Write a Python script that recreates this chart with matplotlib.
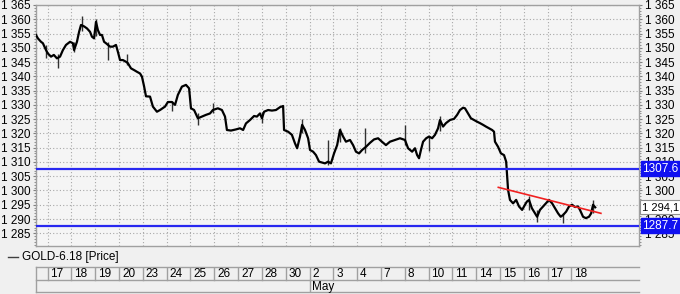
import numpy as np
import matplotlib
matplotlib.use("Agg")
import matplotlib.pyplot as plt
from matplotlib.ticker import FuncFormatter, MultipleLocator

plt.rcParams['font.family'] = ['Liberation Sans', 'DejaVu Sans']

# time in trading days from the 17 Apr open, price
t = [-0.49, -0.41, -0.28, -0.20, -0.07, 0.01, 0.14, 0.26, 0.39, 0.52, 0.64, 0.77, 0.94,
     1.06, 1.11, 1.23, 1.32, 1.40, 1.53, 1.65, 1.78, 1.86, 1.95, 2.03, 2.11, 2.20, 2.28,
     2.37, 2.45, 2.62, 2.74, 2.87, 2.95, 3.04, 3.16, 3.29, 3.37, 3.50, 3.63, 3.75, 3.88,
     3.96, 4.05, 4.13, 4.30, 4.42, 4.59, 4.72, 4.93, 5.05, 5.22, 5.35, 5.47, 5.64, 5.81,
     5.94, 6.02, 6.15, 6.31, 6.48, 6.65, 6.82, 6.94, 7.15, 7.32, 7.45, 7.53, 7.70, 7.91,
     8.08, 8.21, 8.33, 8.50, 8.67, 8.79, 8.92, 9.00, 9.09, 9.26, 9.42, 9.59, 9.76, 9.89,
     9.93, 10.10, 10.26, 10.39, 10.48, 10.60, 10.69, 10.81, 10.94, 11.02, 11.15, 11.27,
     11.40, 11.53, 11.65, 11.78, 11.90, 12.03, 12.16, 12.28, 12.41, 12.53, 12.70, 12.83,
     12.95, 13.08, 13.21, 13.37, 13.54, 13.71, 13.88, 14.04, 14.21, 14.38, 14.59, 14.80,
     15.01, 15.14, 15.31, 15.43, 15.52, 15.60, 15.68, 15.77, 15.90, 16.02, 16.15, 16.27,
     16.40, 16.48, 16.61, 16.73, 16.90, 17.07, 17.20, 17.32, 17.45, 17.53, 17.66, 17.78,
     17.91, 18.04, 18.16, 18.29, 18.41, 18.54, 18.67, 18.75, 18.79, 18.92, 19.04, 19.17,
     19.26, 19.34, 19.42, 19.55, 19.68, 19.80, 19.93, 20.05, 20.13, 20.22, 20.34, 20.47,
     20.56, 20.68, 20.81, 20.93, 21.06, 21.19, 21.31, 21.44, 21.55, 21.65, 21.78, 21.90,
     22.03, 22.15, 22.28, 22.36, 22.49, 22.61, 22.74, 22.83, 22.91, 23.00]
price = [1354.5, 1353.3, 1352.1, 1351.6, 1349.2, 1348.0, 1346.9, 1347.5, 1346.3, 1346.9, 1349.2, 1351.0, 1352.1,
         1351.6, 1349.2, 1352.1, 1355.6, 1358.0, 1357.5, 1356.8, 1355.6, 1353.9, 1353.3, 1359.1, 1356.2, 1354.5, 1354.5,
         1352.1, 1351.6, 1350.4, 1350.4, 1351.0, 1348.6, 1345.7, 1345.7, 1345.1, 1344.6, 1342.8, 1342.2, 1341.6, 1341.0,
         1339.9, 1336.5, 1333.0, 1332.9, 1329.4, 1327.6, 1328.2, 1329.4, 1331.0, 1331.0, 1330.0, 1333.5, 1336.4, 1337.0,
         1335.8, 1328.8, 1328.2, 1325.3, 1325.9, 1326.5, 1327.0, 1328.2, 1328.8, 1328.2, 1325.9, 1321.2, 1321.0, 1321.4,
         1321.8, 1321.2, 1323.5, 1324.7, 1326.1, 1325.9, 1327.0, 1325.3, 1327.6, 1328.2, 1328.0, 1328.2, 1329.2, 1329.6,
         1321.2, 1320.6, 1319.5, 1316.5, 1314.8, 1318.9, 1323.0, 1321.2, 1318.3, 1314.2, 1313.6, 1312.4,
         1310.1, 1309.8, 1309.5, 1310.1, 1309.5, 1313.0, 1315.9, 1321.2, 1318.9, 1317.1, 1317.7, 1315.9,
         1313.6, 1313.0, 1314.2, 1315.3, 1316.7, 1317.9, 1318.3, 1317.1, 1315.9, 1317.1, 1317.7, 1318.3,
         1317.7, 1314.8, 1313.6, 1314.8, 1312.4, 1311.3, 1314.2, 1317.1, 1318.3, 1318.9, 1318.3, 1319.5,
         1321.8, 1324.7, 1322.4, 1323.6, 1324.7, 1325.1, 1326.5, 1328.2, 1329.0, 1328.8, 1327.0, 1325.3,
         1324.7, 1324.1, 1323.6, 1323.0, 1322.4, 1321.8, 1321.2, 1320.6, 1317.1, 1315.3, 1313.0, 1312.4,
         1310.1, 1300.2, 1296.7, 1295.5, 1296.7, 1294.4, 1293.2, 1295.0, 1296.1, 1296.7, 1293.8, 1292.0,
         1290.8, 1293.2, 1294.4, 1295.5, 1296.7, 1295.5, 1293.8, 1292.0, 1290.8, 1291.4, 1292.6, 1294.4,
         1295.0, 1294.2, 1294.4, 1293.2, 1290.8, 1290.3, 1290.8, 1292.0, 1295.0, 1294.1]

# high/low wicks of the longer bars
wick_t = [-0.07, 0.43, 1.11, 1.44, 2.03, 2.53, 3.33, 5.22, 6.31, 6.94, 9.00, 10.69,
          11.78, 12.28, 13.33, 15.01, 16.02, 16.48, 20.22, 20.56, 21.65, 22.91]
wick_lo = [1346.5, 1342.8, 1348.5, 1356.0, 1354.0, 1345.7, 1344.0, 1328.0, 1323.0, 1327.0, 1323.5, 1320.0,
           1309.0, 1317.0, 1313.0, 1316.0, 1314.0, 1321.0, 1293.0, 1289.0, 1288.6, 1292.0]
wick_hi = [1351.0, 1348.0, 1352.0, 1361.1, 1360.0, 1352.0, 1348.0, 1331.5, 1327.0, 1330.6, 1327.5, 1325.0,
           1317.7, 1322.0, 1322.0, 1323.0, 1319.0, 1326.1, 1298.0, 1293.0, 1292.0, 1296.7]

day_labels = ['17', '18', '19', '20', '23', '24', '25', '26', '27', '28', '30', '2',
              '3', '4', '7', '8', '10', '11', '14', '15', '16', '17', '18']
month_labels = [('', -0.49), ('May', 11)]

levels = [1307.6, 1287.7]
last_price = 1294.1
trend_t = [18.93, 23.24]
trend_p = [1301.1, 1292.0]


def space_fmt(v, dec=0):
    s = f"{v:,.{dec}f}"
    return s.replace(",", " ").replace(".", ",")


fig = plt.figure(figsize=(6.8, 2.94), dpi=100, facecolor='#f0f0f0')
ax = fig.add_axes([36/680, 1-246/294, 603/680, 241.3/294])
ax.set_facecolor('#f5f5f5')
xmin, xmax = -0.49, 24.84
ax.set_xlim(xmin, xmax)
ax.set_ylim(1280.55, 1365.1)

gridc = '#a8a8a8'
for k in range(len(day_labels)):
    ax.axvline(k, color=gridc, lw=0.8, ls=(0, (1, 2)), zorder=1)
ax.yaxis.set_major_locator(MultipleLocator(5))
ax.yaxis.set_minor_locator(MultipleLocator(1))
ax.grid(axis='y', which='major', color=gridc, lw=0.8, ls=(0, (1, 2)), zorder=1)
ax.set_xticks([])

ax.yaxis.set_major_formatter(FuncFormatter(lambda v, p: space_fmt(v)))
ax.tick_params(axis='y', which='both', left=True, right=True, labelleft=True, labelright=True,
               labelsize=8.5, colors='#808080', labelcolor='black', pad=1.5)
ax.tick_params(axis='y', which='major', length=2.5)
ax.tick_params(axis='y', which='minor', length=1.5)
for s in ax.spines.values():
    s.set_color('#a0a0a0')
    s.set_linewidth(1)

ax.vlines(wick_t, wick_lo, wick_hi, color='#303030', lw=1, zorder=3)
ax.plot(t, price, color='black', lw=1.6, zorder=4)

for lv in levels:
    ax.axhline(lv, color='#2828f0', lw=1.6, zorder=5)
ax.plot(trend_t, trend_p, color='#f02020', lw=1.2, zorder=6)

# price labels on the right scale
box_blue = dict(boxstyle='square,pad=0.12', fc='#1010f0', ec='#1010f0')
for lv in levels:
    ax.annotate(f"{lv:.1f}", xy=(1, lv), xycoords=('axes fraction', 'data'),
                xytext=(2.2, 0), textcoords='offset points', va='center', ha='left',
                fontsize=8.5, color='white', bbox=box_blue, zorder=10, annotation_clip=False)
ax.annotate(space_fmt(last_price, 1), xy=(1, last_price), xycoords=('axes fraction', 'data'),
            xytext=(2.4, 0), textcoords='offset points', va='center', ha='left', fontsize=8,
            color='black', bbox=dict(boxstyle='square,pad=0.18', fc='white', ec='#909090', lw=0.8),
            zorder=10, annotation_clip=False)

# legend line
fig.add_artist(plt.Line2D([8/680, 18/680], [1-257/294, 1-257/294], color='#404040', lw=1))
fig.text(22/680, 1-257/294, 'GOLD-6.18 [Price]', fontsize=8.5, va='center', ha='left')

# date table
tab = fig.add_axes([36/680, 1-292.5/294, 603/680, 26/294])
tab.set_xlim(xmin, xmax)
tab.set_ylim(0, 2)
tab.axis('off')
tab.patch.set_visible(False)
linec = '#a0a0a0'
for y in [0.02, 1, 2]:
    tab.plot([xmin, xmax], [y, y], color=linec, lw=1, clip_on=False)
tab.plot([xmin, xmin], [0.02, 2], color=linec, lw=1, clip_on=False)
for k, lab in enumerate(day_labels):
    tab.plot([k, k], [1, 2], color=linec, lw=1)
    tab.text(k + 0.12, 1.45, lab, fontsize=8.5, va='center', ha='left')
for lab, k in month_labels:
    if lab:
        tab.plot([k, k], [0.02, 1], color=linec, lw=1)
        tab.text(k + 0.12, 0.45, lab, fontsize=8.5, va='center', ha='left')

fig.savefig('out.png', dpi=100, facecolor=fig.get_facecolor())
